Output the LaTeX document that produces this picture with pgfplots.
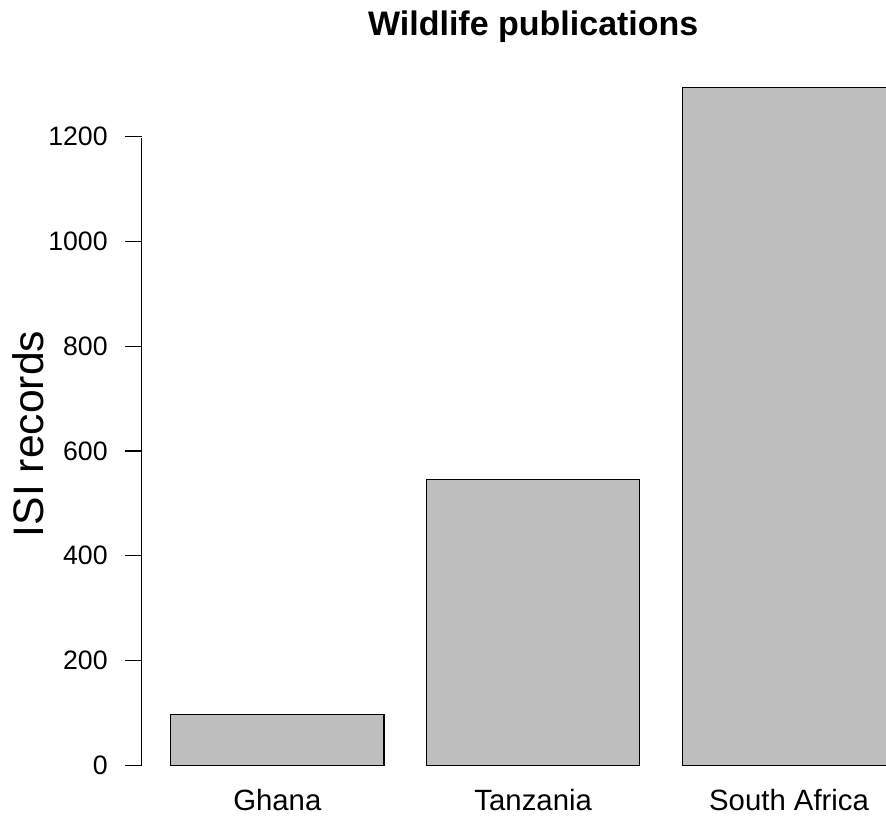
\documentclass[border=0pt]{standalone}
\usepackage{fontspec}
\setmainfont{Liberation Sans}
\usepackage{pgfplots}
\pgfplotsset{compat=1.18}
\definecolor{rgray}{RGB}{190,190,190}
\begin{document}
\begin{tikzpicture}
\useasboundingbox (-106.3pt,-18.45pt) rectangle (558.2pt,594.3pt);
\clip (-106.3pt,-18.45pt) rectangle (558.2pt,594.3pt);
\begin{axis}[
  at={(0,0)}, anchor=south west,
  scale only axis,
  width=587.2pt, height=549.0pt,
  xmin=0.064, xmax=3.736,
  ymin=-51.76, ymax=1345.76,
  axis lines=left,
  axis line style={-},
  x axis line style={draw=none},
  y axis line style={black, line width=0.9pt, shorten <=20.3pt, shorten >=58.1pt},
  tick align=outside,
  major tick length=12.5pt,
  ytick={0,200,400,600,800,1000,1200},
  ytick style={black, line width=0.9pt},
  xtick={0.7,1.9,3.1},
  xticklabels={Ghana,Tanzania,South Africa},
  xtick style={draw=none},
  scaled y ticks=false,
  /pgf/number format/1000 sep={},
  /pgf/number format/assume math mode=true,
  yticklabel style={font=\fontsize{20}{24}\selectfont, anchor=east, inner sep=0pt, xshift=-12.9pt},
  xticklabel style={font=\fontsize{22}{26}\selectfont, anchor=base, inner sep=0pt, yshift=-0.8pt},
  title={\bfseries Wildlife publications},
  title style={at={(axis description cs:0.5,1)}, anchor=base, yshift=12.3pt, font=\fontsize{25.5}{28}\selectfont},
  ylabel={ISI records},
  ylabel style={at={(axis description cs:-0.1257,0.4896)}, anchor=base, font=\fontsize{32}{36}\selectfont},
  clip=false,
]
\addplot[ybar, bar width=1, fill=rgray, draw=black, line width=0.9pt] coordinates {
  (0.7,97) (1.9,545) (3.1,1294)
};
\end{axis}
\end{tikzpicture}
\end{document}
